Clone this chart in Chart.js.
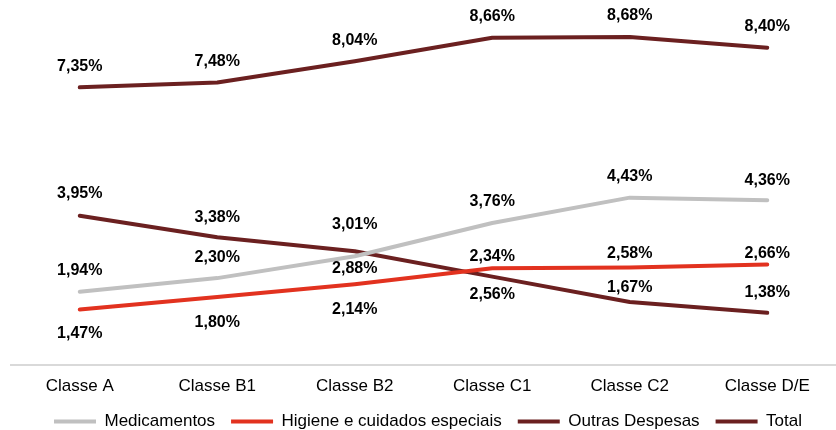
<!DOCTYPE html>
<html>
<head>
<meta charset="utf-8">
<script src="https://cdn.jsdelivr.net/npm/chart.js@4"></script>
<style>
  html, body { margin: 0; padding: 0; background: #fff; }
  #wrap { width: 836px; height: 430px; }
</style>
</head>
<body>
<div id="wrap"><canvas id="chart"></canvas></div>
<script>
const categories = ['Classe A', 'Classe B1', 'Classe B2', 'Classe C1', 'Classe C2', 'Classe D/E'];
const medicamentos = [1.94, 2.30, 2.88, 3.76, 4.43, 4.36];
const higiene = [1.47, 1.80, 2.14, 2.56, 2.58, 2.66];
const outrasDespesas = [3.95, 3.38, 3.01, 2.34, 1.67, 1.38];
const total = [7.35, 7.48, 8.04, 8.66, 8.68, 8.40];

// label offsets (px from the point), negative = above the line
const offMedicamentos = [-21, -21, 12, -21, -21, -20];
const offHigiene = [24, 26, 25, 26, -14, -11];
const offOutras = [-22, -20, -27, -20, -14, -20];
const offTotal = [-21, -21, -21, -21, -21, -21];

const fmt = v => v.toFixed(2).replace('.', ',') + '%';

// draws the percentage labels next to each point
const valueLabels = {
    id: 'valueLabels',
    afterDatasetsDraw(chart) {
        const ctx = chart.ctx;
        ctx.save();
        ctx.font = 'bold 16px "Liberation Sans", Arial, sans-serif';
        ctx.fillStyle = '#000';
        ctx.textAlign = 'center';
        ctx.textBaseline = 'middle';
        chart.data.datasets.forEach((ds, i) => {
            const meta = chart.getDatasetMeta(i);
            meta.data.forEach((pt, j) => {
                ctx.fillText(fmt(ds.data[j]), pt.x, pt.y + ds.labelOffsets[j]);
            });
        });
        ctx.restore();
    }
};

const line = (label, data, color, offsets) => ({
    label: label,
    data: data,
    borderColor: color,
    backgroundColor: color,
    borderWidth: 4,
    borderCapStyle: 'round',
    borderJoinStyle: 'round',
    tension: 0,
    pointRadius: 0,
    pointHoverRadius: 0,
    fill: false,
    labelOffsets: offsets
});

new Chart(document.getElementById('chart'), {
    type: 'line',
    data: {
        labels: categories,
        datasets: [
            line('Medicamentos', medicamentos, '#c0c0c0', offMedicamentos),
            line('Higiene e cuidados especiais', higiene, '#e2321f', offHigiene),
            line('Outras Despesas', outrasDespesas, '#6b2020', offOutras),
            line('Total', total, '#6b2020', offTotal)
        ]
    },
    options: {
        responsive: true,
        maintainAspectRatio: false,
        animation: false,
        layout: { padding: { left: 11, right: -9, top: 25, bottom: -10 } },
        plugins: {
            legend: {
                position: 'bottom',
                labels: {
                    usePointStyle: true,
                    pointStyle: 'line',
                    pointStyleWidth: 42,
                    color: '#000',
                    padding: 16,
                    font: { family: '"Liberation Sans", Arial, sans-serif', size: 17 }
                }
            },
            tooltip: { enabled: false }
        },
        scales: {
            x: {
                offset: true,
                grid: { display: false, drawTicks: false },
                border: { display: true, color: '#d9d9d9', width: 2 },
                ticks: {
                    color: '#000',
                    padding: 11,
                    font: { family: '"Liberation Sans", Arial, sans-serif', size: 17 }
                },
                // trim the axis band so the legend sits close under the labels
                afterFit(scale) { scale.height = 32; }
            },
            y: {
                display: false,
                min: 0,
                max: 9
            }
        }
    },
    plugins: [valueLabels]
});
</script>
</body>
</html>
